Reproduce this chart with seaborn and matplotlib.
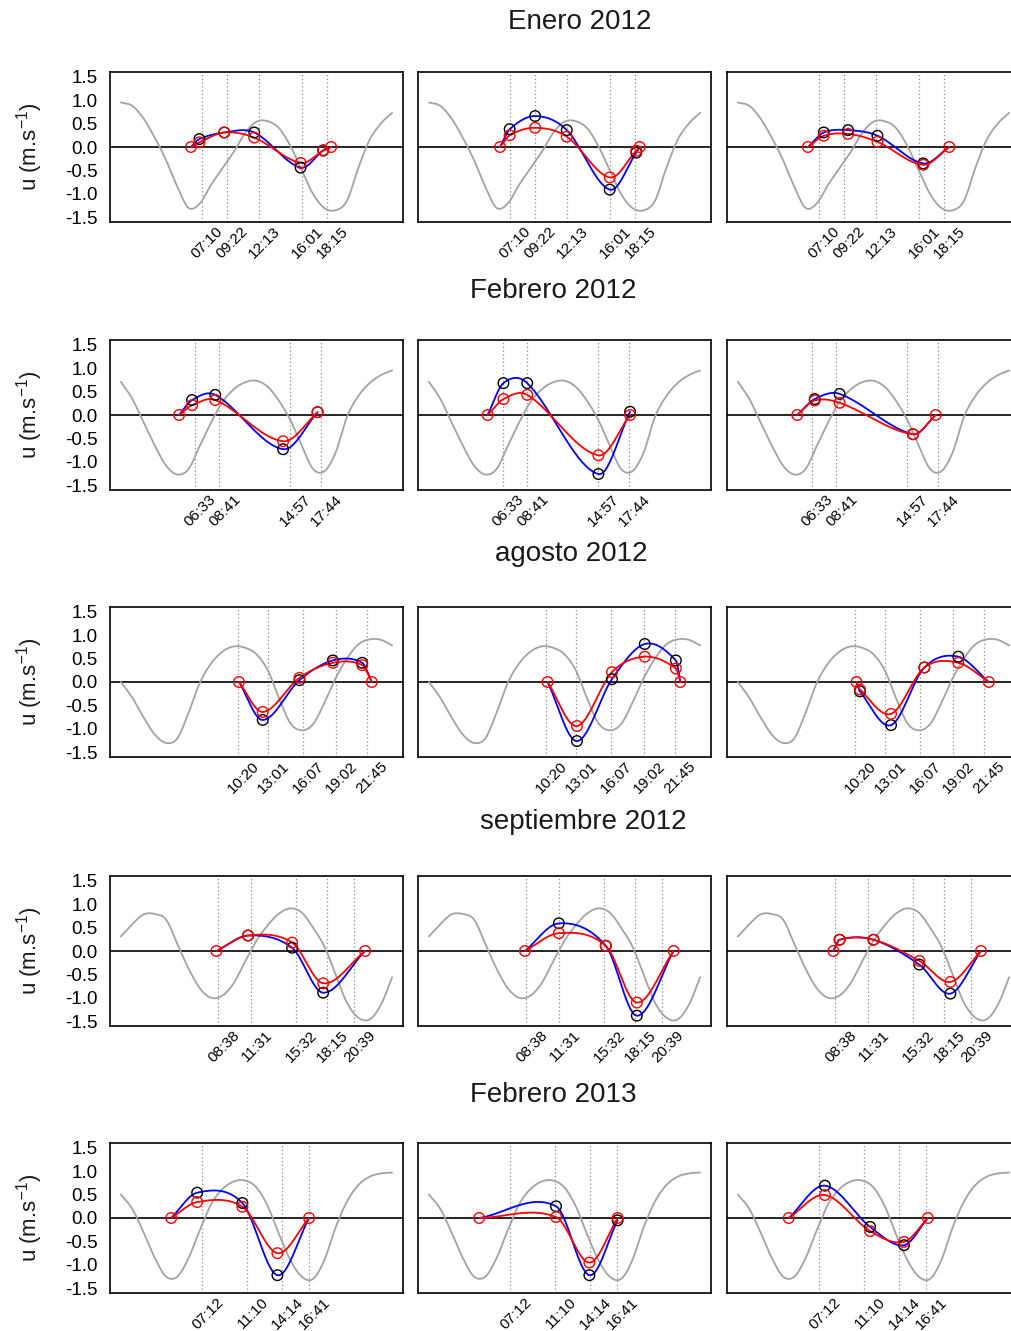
#!/usr/bin/env python3
# -*- coding: utf-8 -*-
"""
Velocidad u observada (negro/azul) y modelada (rojo) sobre la marea (gris),
5 campañas x 3 perfiles.
"""

import numpy as np
import matplotlib
matplotlib.use("Agg")
import matplotlib.pyplot as plt
from matplotlib.transforms import ScaledTranslation
import seaborn as sns


MONTHS = ["Enero 2012", "Febrero 2012", "agosto 2012",
          "septiembre 2012", "Febrero 2013"]

TICKS = [
    ["07:10", "09:22", "12:13", "16:01", "18:15"],
    ["06:33", "08:41", "14:57", "17:44"],
    ["10:20", "13:01", "16:07", "19:02", "21:45"],
    ["08:38", "11:31", "15:32", "18:15", "20:39"],
    ["07:12", "11:10", "14:14", "16:41"],
]

# marea (nivel relativo) cada hora, 0..24 h
TIDE_HOURS = list(range(25))
TIDE_ENE12 = [0.95, 0.88, 0.61, 0.20, -0.28, -0.85, -1.30, -1.20, -0.80,
              -0.45, -0.10, 0.30, 0.54, 0.55, 0.40, 0.02, -0.50, -1.00,
              -1.30, -1.35, -1.15, -0.45, 0.15, 0.50, 0.73]
TIDE_FEB12 = [0.71, 0.35, -0.15, -0.65, -1.08, -1.27, -1.15, -0.65, -0.15,
              0.28, 0.55, 0.70, 0.73, 0.60, 0.30, -0.11, -0.65, -1.15,
              -1.20, -0.80, -0.04, 0.40, 0.68, 0.85, 0.95]
TIDE_AGO12 = [0.00, -0.33, -0.75, -1.12, -1.30, -1.20, -0.65, -0.01, 0.40,
              0.65, 0.76, 0.73, 0.59, 0.25, -0.35, -0.88, -1.03, -0.90,
              -0.45, 0.08, 0.50, 0.80, 0.91, 0.90, 0.78]
TIDE_SEP12 = [0.31, 0.57, 0.78, 0.79, 0.67, 0.15, -0.38, -0.80, -1.00,
              -0.95, -0.68, -0.22, 0.22, 0.55, 0.80, 0.91, 0.82, 0.50,
              0.10, -0.50, -1.10, -1.42, -1.46, -1.15, -0.56]
TIDE_FEB13 = [0.50, 0.20, -0.30, -0.85, -1.25, -1.25, -0.85, -0.25, 0.30,
              0.62, 0.78, 0.80, 0.65, 0.25, -0.35, -0.90, -1.25, -1.30,
              -0.90, -0.20, 0.35, 0.70, 0.88, 0.95, 0.97]
TIDES = [TIDE_ENE12, TIDE_FEB12, TIDE_AGO12, TIDE_SEP12, TIDE_FEB13]

# puntos de cada perfil: hora, u modelada (rojo), u observada (negro)
ENE12_T = [[6.2, 6.95, 9.15, 11.8, 15.9, 17.9, 18.6],
           [6.3, 7.15, 9.4, 12.2, 16.0, 18.35, 18.65],
           [6.2, 7.6, 9.75, 12.35, 16.4, 18.7]]
ENE12_RED = [[0, 0.10, 0.31, 0.20, -0.34, -0.08, 0],
             [0, 0.25, 0.41, 0.22, -0.65, -0.08, 0],
             [0, 0.24, 0.28, 0.11, -0.38, 0]]
ENE12_BLK = [[None, 0.17, 0.31, 0.31, -0.44, -0.07, None],
             [None, 0.38, 0.66, 0.36, -0.91, -0.12, None],
             [None, 0.31, 0.36, 0.24, -0.35, None]]

FEB12_T = [[5.15, 6.3, 8.35, 14.35, 17.4],
           [5.2, 6.6, 8.7, 15.0, 17.8],
           [5.25, 6.8, 9.0, 15.5, 17.5]]
FEB12_RED = [[0, 0.21, 0.32, -0.56, 0.06],
             [0, 0.34, 0.43, -0.86, 0],
             [0, 0.31, 0.26, -0.41, 0]]
FEB12_BLK = [[None, 0.32, 0.43, -0.73, 0.06],
             [None, 0.68, 0.68, -1.26, 0.07],
             [None, 0.34, 0.45, -0.41, None]]

AGO12_T = [[10.45, 12.55, 15.8, 18.75, 21.35, 22.2],
           [10.5, 13.1, 16.2, 19.1, 21.85, 22.25],
           [10.5, 10.8, 13.55, 16.5, 19.5, 22.2]]
AGO12_RED = [[0, -0.64, 0.09, 0.41, 0.36, 0],
             [0, -0.94, 0.21, 0.54, 0.29, 0],
             [0, -0.16, -0.68, 0.31, 0.41, 0]]
AGO12_BLK = [[None, -0.81, 0.04, 0.46, 0.41, None],
             [None, -1.26, 0.06, 0.81, 0.46, None],
             [None, -0.20, -0.92, 0.31, 0.54, None]]

SEP12_T = [[8.45, 11.25, 15.15, 17.9, 21.6],
           [8.5, 11.5, 15.65, 18.4, 21.65],
           [8.45, 9.0, 12.0, 16.05, 18.8, 21.5]]
SEP12_RED = [[0, 0.33, 0.18, -0.69, 0],
             [0, 0.38, 0.11, -1.10, 0],
             [0, 0.24, 0.24, -0.21, -0.66, 0]]
SEP12_BLK = [[None, 0.33, 0.07, -0.89, None],
             [None, 0.59, 0.11, -1.38, None],
             [None, 0.24, 0.24, -0.29, -0.91, None]]

FEB13_T = [[4.45, 6.75, 10.75, 13.85, 16.65],
           [4.45, 11.25, 14.2, 16.7],
           [4.5, 7.7, 11.7, 14.7, 16.8]]
FEB13_RED = [[0, 0.34, 0.24, -0.75, 0],
             [0, 0.02, -0.95, 0],
             [0, 0.49, -0.28, -0.51, 0]]
FEB13_BLK = [[None, 0.54, 0.32, -1.22, None],
             [None, 0.25, -1.22, -0.05],
             [None, 0.69, -0.19, -0.58, None]]

ROWS_T = [ENE12_T, FEB12_T, AGO12_T, SEP12_T, FEB13_T]
ROWS_RED = [ENE12_RED, FEB12_RED, AGO12_RED, SEP12_RED, FEB13_RED]
ROWS_BLK = [ENE12_BLK, FEB12_BLK, AGO12_BLK, SEP12_BLK, FEB13_BLK]

# layout (pixels)
W, H = 1011, 1331
COL_LEFTS = [110, 418, 727]
ROW_TOPS = [72, 340, 607, 876, 1143]
AX_W, AX_H = 293, 150
TITLE_POS = [(580, 22), (553, 291), (571, 554), (583, 822), (553, 1095)]


def smooth(x, y, per=40):
    """curva suave (Hermite / Catmull-Rom) que pasa por los puntos"""
    x = np.asarray(x, float)
    y = np.asarray(y, float)
    n = len(x)
    if n < 3:
        return x, y
    m = np.empty(n)
    m[1:-1] = (y[2:] - y[:-2]) / (x[2:] - x[:-2])
    m[0] = (y[1] - y[0]) / (x[1] - x[0])
    m[-1] = (y[-1] - y[-2]) / (x[-1] - x[-2])
    t = np.linspace(0, 1, per)
    h00 = 2 * t ** 3 - 3 * t ** 2 + 1
    h10 = t ** 3 - 2 * t ** 2 + t
    h01 = -2 * t ** 3 + 3 * t ** 2
    h11 = t ** 3 - t ** 2
    xs, ys = [], []
    for i in range(n - 1):
        h = x[i + 1] - x[i]
        xs.append(x[i] + t * h)
        ys.append(h00 * y[i] + h10 * h * m[i] + h01 * y[i + 1]
                  + h11 * h * m[i + 1])
    return np.concatenate(xs), np.concatenate(ys)


def to_hours(lbl):
    hh, mm = lbl.split(":")
    return int(hh) + int(mm) / 60.0


def draw_panel(ax, fig, tide, ticks, t, red, blk, first_col):
    ax.set_xlim(-0.96, 24.96)
    ax.set_ylim(-1.6, 1.6)

    tick_h = [to_hours(s) for s in ticks]
    for th in tick_h:
        ax.axvline(th, color="#8c8c8c", ls=(0, (1, 2)), lw=0.9, zorder=1)
    ax.axhline(0, color="black", lw=1.2, zorder=1.5)

    xs, ys = smooth(TIDE_HOURS, tide)
    sns.lineplot(x=xs, y=ys, ax=ax, color="#a3a3a3", lw=1.3,
                 sort=False, estimator=None, zorder=2)

    blue_y = [b if b is not None else r for b, r in zip(blk, red)]
    xs, ys = smooth(t, blue_y)
    sns.lineplot(x=xs, y=ys, ax=ax, color="blue", lw=1.3,
                 sort=False, estimator=None, zorder=3)
    xs, ys = smooth(t, red)
    sns.lineplot(x=xs, y=ys, ax=ax, color="red", lw=1.3,
                 sort=False, estimator=None, zorder=4)

    bx = [ti for ti, b in zip(t, blk) if b is not None]
    by = [b for b in blk if b is not None]
    sns.scatterplot(x=bx, y=by, ax=ax, s=58, facecolor="none",
                    edgecolor="black", linewidth=1.0, zorder=5)
    sns.scatterplot(x=t, y=red, ax=ax, s=58, facecolor="none",
                    edgecolor="red", linewidth=1.0, zorder=6)

    ax.set_xticks(tick_h)
    ax.set_xticklabels(ticks, rotation=45, ha="right", va="center",
                       rotation_mode="anchor", fontsize=11)
    ax.tick_params(axis="x", length=0, pad=5)
    shift = ScaledTranslation(0.19, 0, fig.dpi_scale_trans)
    for lab in ax.get_xticklabels():
        lab.set_transform(lab.get_transform() + shift)

    if first_col:
        ax.set_yticks([-1.5, -1.0, -0.5, 0.0, 0.5, 1.0, 1.5])
        ax.set_yticklabels(["-1.5", "-1.0", "-0.5", "0.0", "0.5", "1.0", "1.5"])
        ax.tick_params(axis="y", length=7, width=1, labelsize=13.5, pad=2,
                       direction="out")
    else:
        ax.set_yticks([])
    ax.set_xlabel("")
    ax.set_ylabel("")
    for sp in ax.spines.values():
        sp.set_visible(True)
        sp.set_color("black")
        sp.set_linewidth(1.2)


def main():
    sns.set_style("white")
    plt.rcParams["font.family"] = ["Liberation Sans", "DejaVu Sans"]
    plt.rcParams["mathtext.fontset"] = "custom"
    plt.rcParams["mathtext.rm"] = "Liberation Sans"
    plt.rcParams["mathtext.it"] = "Liberation Sans:italic"
    plt.rcParams["text.color"] = "#1a1a1a"
    plt.rcParams["xtick.color"] = "black"
    plt.rcParams["ytick.color"] = "black"

    fig = plt.figure(figsize=(W / 100, H / 100), dpi=100)
    fig.patch.set_facecolor("white")

    for r in range(5):
        top = ROW_TOPS[r]
        for c in range(3):
            left = COL_LEFTS[c]
            ax = fig.add_axes([left / W, 1 - (top + AX_H) / H,
                               AX_W / W, AX_H / H])
            ax.set_facecolor("white")
            draw_panel(ax, fig, TIDES[r], TICKS[r], ROWS_T[r][c],
                       ROWS_RED[r][c], ROWS_BLK[r][c], c == 0)
        tx, ty = TITLE_POS[r]
        fig.text(tx / W, 1 - ty / H, MONTHS[r], ha="center", va="center",
                 fontsize=20)
        fig.text(30 / W, 1 - (top + AX_H / 2) / H, "u (m.s$^{-1}$)",
                 rotation=90, ha="center", va="center", fontsize=16)

    fig.savefig("out.png", dpi=100, facecolor="white")
    plt.close(fig)


if __name__ == "__main__":
    main()
